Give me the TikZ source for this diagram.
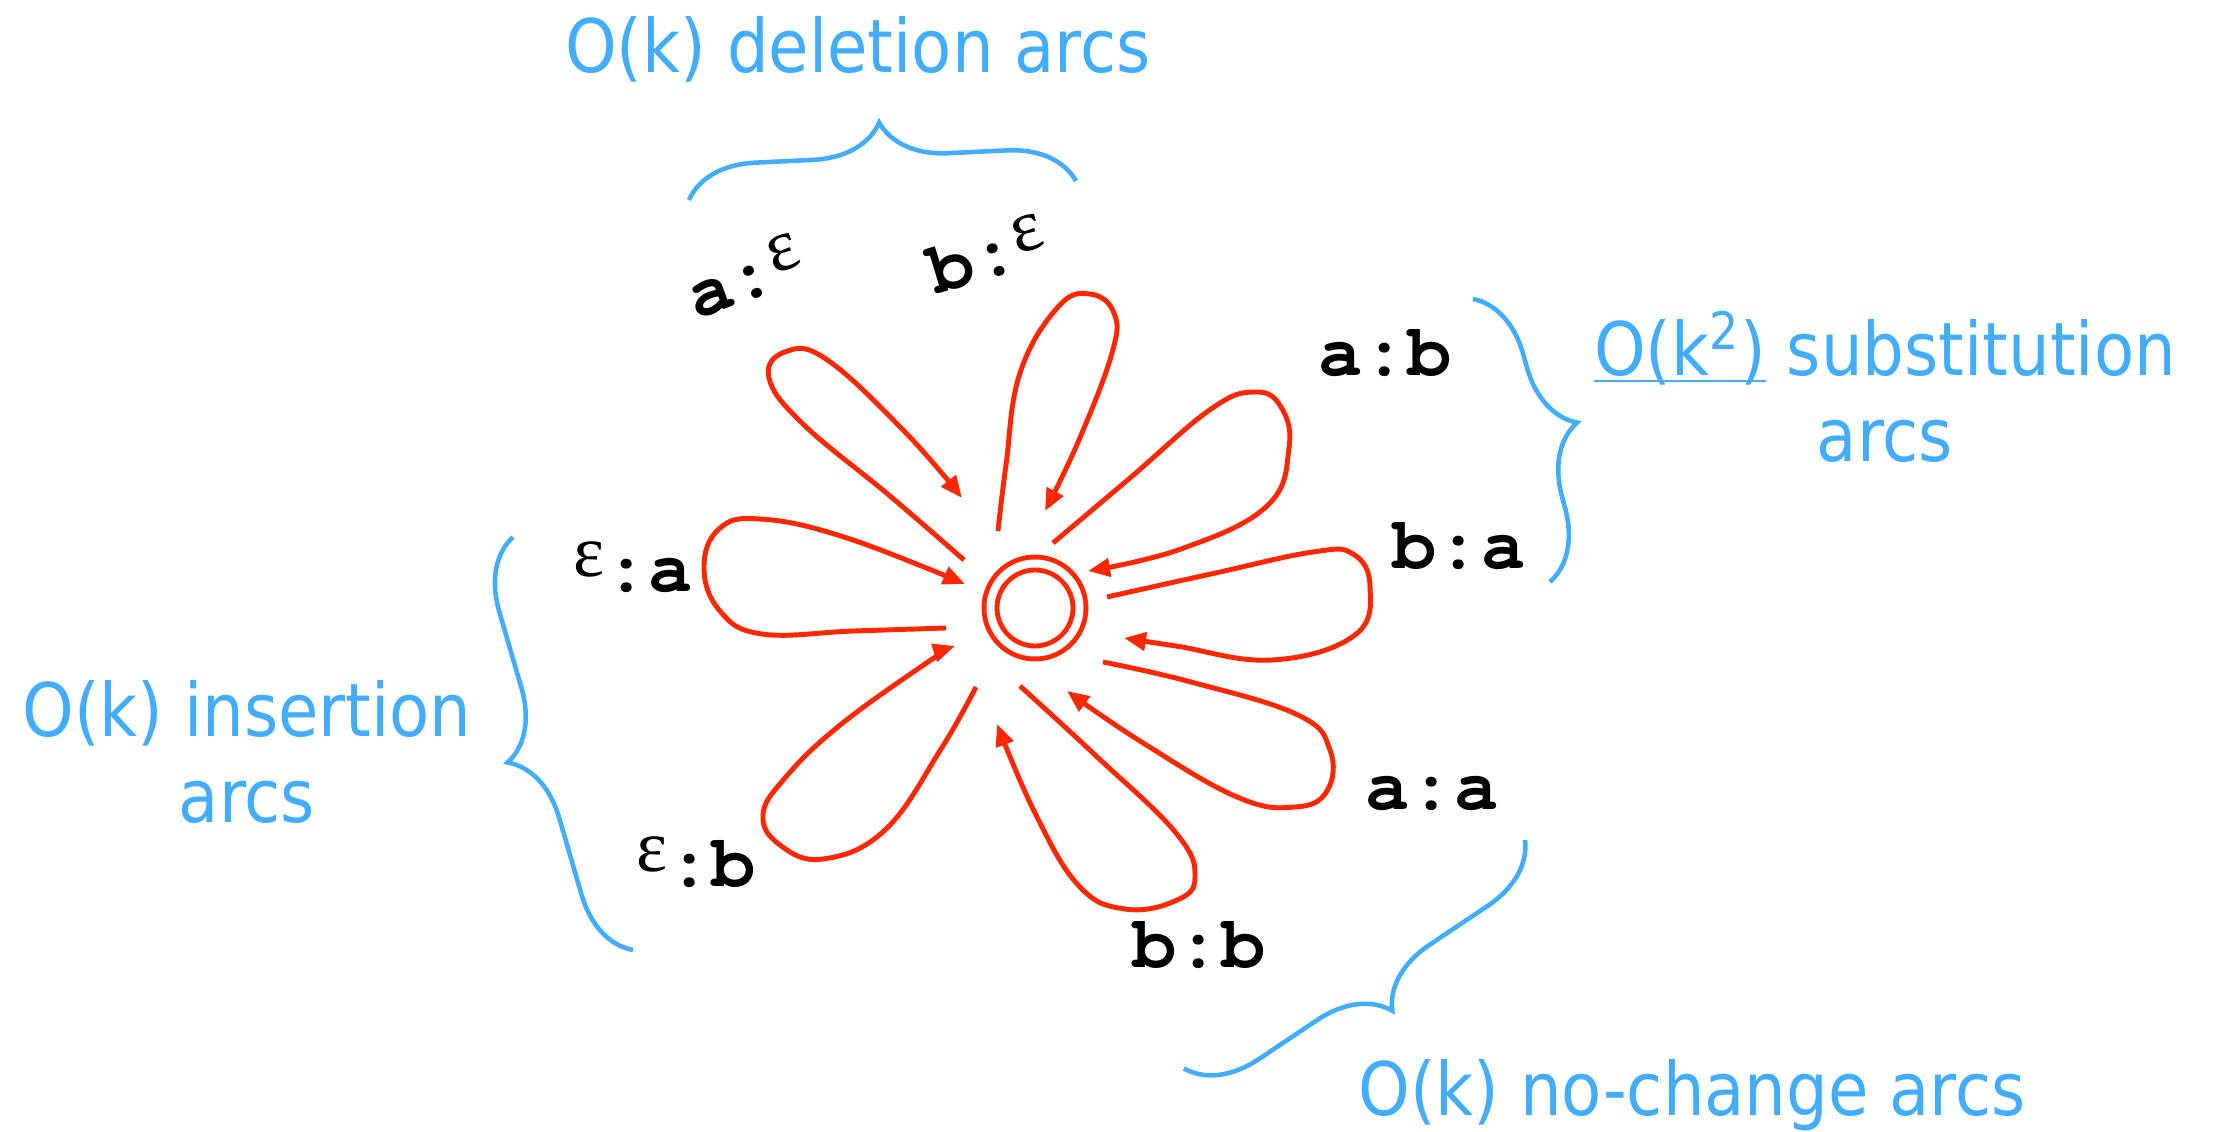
\documentclass[tikz,border=0pt]{standalone}
\usepackage{fontspec}
\usetikzlibrary{arrows.meta,decorations.pathreplacing}
\newfontfamily\arcfont{TeX Gyre Cursor}
\newfontfamily\epsfont{Liberation Serif}
\newfontfamily\notefont[FakeStretch=0.89]{DejaVu Sans}
\definecolor{petalred}{RGB}{255,38,0}
\definecolor{noteblue}{RGB}{66,172,255}
\newcommand{\epsl}{\raisebox{.2em}{\epsfont\mdseries ε}}

\begin{document}
\begin{tikzpicture}[state/.style={circle,draw=petalred,line width=1.4pt,double,double distance=0.8mm,inner sep=0pt,minimum size=8.9mm}, petal/.style={draw=petalred,line width=1.4pt,-{Triangle[length=2.2mm,width=1.8mm]}}, lbl/.style={inner sep=0pt,font=\arcfont\bfseries\fontsize{21}{25}\selectfont}, note/.style={text=noteblue,inner sep=0pt,align=center,font=\notefont\fontsize{21}{24.5}\selectfont}, notebrace/.style={draw=noteblue,line width=1.3pt,decorate,decoration={brace,amplitude=6.8mm}}]
\useasboundingbox (-10.35,-5.24) rectangle (11.79,6.08);
\node[state] (q) at (0,0) {};
% one loop per pair
\draw[petal] plot[smooth,tension=.7] coordinates {(-0.71,0.48) (-1.45,1.12) (-2.32,1.84) (-2.66,2.30) (-2.50,2.56) (-2.09,2.49) (-1.30,1.76) (-0.73,1.10)};
\draw[petal] plot[smooth,tension=.7] coordinates {(-0.37,0.77) (-0.29,1.43) (-0.15,2.35) (0.23,3.01) (0.55,3.14) (0.79,2.95) (0.77,2.55) (0.44,1.68) (0.10,0.97)};
\draw[petal] plot[smooth,tension=.7] coordinates {(0.18,0.65) (0.95,1.30) (1.76,1.99) (2.20,2.16) (2.46,2.01) (2.54,1.60) (2.32,1.02) (1.46,0.59) (0.53,0.37)};
\draw[petal] plot[smooth,tension=.7] coordinates {(0.72,0.11) (1.76,0.34) (2.78,0.56) (3.18,0.54) (3.35,0.22) (3.20,-0.27) (2.37,-0.52) (1.41,-0.38) (0.89,-0.30)};
\draw[petal] plot[smooth,tension=.7] coordinates {(0.68,-0.54) (1.56,-0.74) (2.63,-1.07) (2.95,-1.42) (2.92,-1.83) (2.60,-1.99) (2.02,-1.89) (1.05,-1.33) (0.32,-0.83)};
\draw[petal] plot[smooth,tension=.7] coordinates {(-0.15,-0.78) (0.59,-1.46) (1.41,-2.25) (1.60,-2.70) (1.40,-2.93) (0.90,-3.01) (0.44,-2.78) (0.00,-2.05) (-0.38,-1.16)};
\draw[petal] plot[smooth,tension=.7] coordinates {(-0.59,-0.79) (-0.94,-1.41) (-1.50,-2.22) (-2.12,-2.51) (-2.55,-2.37) (-2.72,-2.07) (-2.50,-1.70) (-1.96,-1.18) (-1.10,-0.56) (-0.80,-0.38)};
\draw[petal] plot[smooth,tension=.7] coordinates {(-0.89,-0.20) (-1.81,-0.23) (-2.73,-0.26) (-3.15,-0.03) (-3.31,0.40) (-3.16,0.79) (-2.75,0.89) (-1.91,0.71) (-0.70,0.24)};
\node[lbl,rotate=20] (ae) at (-2.91,3.32) {a:\epsl};
\node[lbl,rotate=17] (be) at (-0.48,3.54) {b:\epsl};
\node[lbl] (ab) at (3.50,2.55) {a:b};
\node[lbl] (ba) at (4.24,0.62) {b:a};
\node[lbl] (aa) at (3.97,-1.85) {a:a};
\node[lbl] (bb) at (1.64,-3.37) {b:b};
\node[lbl] (eb) at (-3.39,-2.54) {\epsl:b};
\node[lbl] (ea) at (-4.02,0.41) {\epsl:a};
% braces and notes
\draw[notebrace] (-3.46,4.08) -- (0.41,4.27);
\draw[notebrace] (4.38,3.09) -- (5.15,0.26);
\draw[notebrace] (-4.02,-3.42) -- (-5.22,0.71);
\draw[notebrace] (4.90,-2.32) -- (1.48,-4.61);
\node[note,anchor=base] (del) at (-1.77,5.35) {O(k) deletion arcs};
\node[note,anchor=base] (sub) at (8.50,1.46) {\underline{\smash{O(k\textsuperscript{2})}} substitution\\arcs};
\node[note,anchor=base] (ins) at (-7.88,-2.15) {O(k) insertion\\arcs};
\node[note,anchor=base] (noch) at (6.57,-5.07) {O(k) no-change arcs};
\end{tikzpicture}
\end{document}
